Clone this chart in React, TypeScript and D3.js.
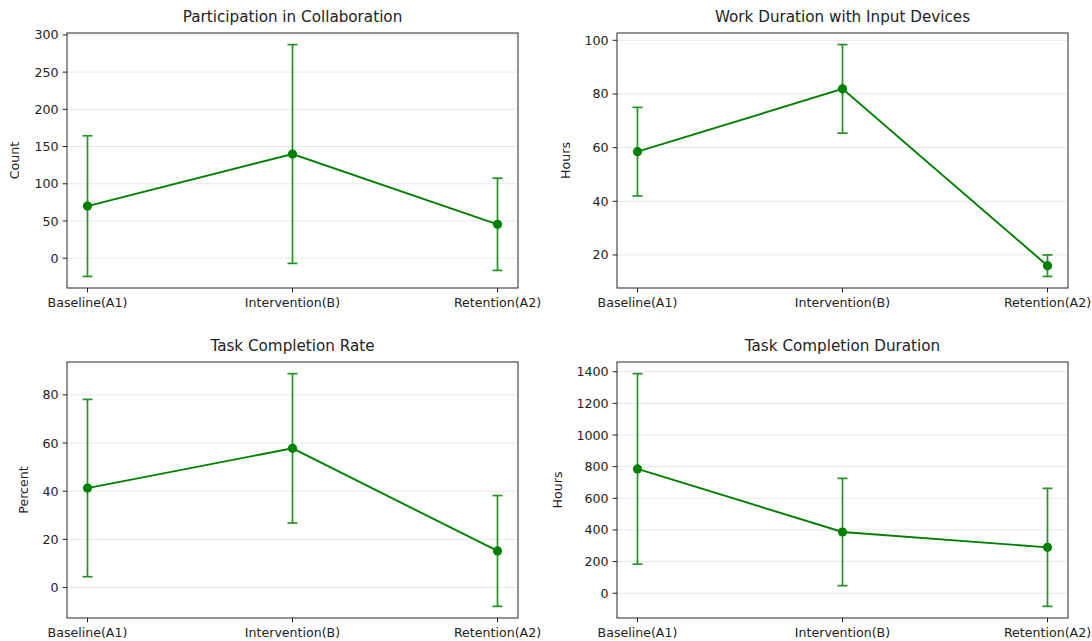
import React from "react";
import * as d3 from "d3";

const categories = ["Baseline(A1)", "Intervention(B)", "Retention(A2)"];

const participationMean = [70, 140, 45.5];
const participationErr = [94.5, 147, 62];
const participationTicks = [0, 50, 100, 150, 200, 250, 300];

const workMean = [58.5, 81.9, 16];
const workErr = [16.5, 16.5, 4];
const workTicks = [20, 40, 60, 80, 100];

const rateMean = [41.3, 57.8, 15.2];
const rateErr = [36.8, 31, 23];
const rateTicks = [0, 20, 40, 60, 80];

const durationMean = [786, 387, 290];
const durationErr = [602, 339, 373];
const durationTicks = [0, 200, 400, 600, 800, 1000, 1200, 1400];

const panels = [
  { title: "Participation in Collaboration", ylabel: "Count", mean: participationMean, err: participationErr, ticks: participationTicks },
  { title: "Work Duration with Input Devices", ylabel: "Hours", mean: workMean, err: workErr, ticks: workTicks },
  { title: "Task Completion Rate", ylabel: "Percent", mean: rateMean, err: rateErr, ticks: rateTicks },
  { title: "Task Completion Duration", ylabel: "Hours", mean: durationMean, err: durationErr, ticks: durationTicks },
];

// frame boxes for the 2x2 grid
const boxes = [
  { x: 67, y: 33, w: 451, h: 255, labelOff: 52 },
  { x: 617, y: 33, w: 451, h: 255, labelOff: 51 },
  { x: 67, y: 362, w: 451, h: 256, labelOff: 43 },
  { x: 617, y: 362, w: 451, h: 256, labelOff: 59 },
];

const GREEN = "#008000";
const FONT = "DejaVu Sans, sans-serif";
const TICK = 12.6;

function Panel({ p, b }: { p: any; b: any }) {
  const lo = d3.min(p.mean.map((m: number, i: number) => m - p.err[i])) as number;
  const hi = d3.max(p.mean.map((m: number, i: number) => m + p.err[i])) as number;
  const pad = (hi - lo) * 0.05;
  const y = d3.scaleLinear().domain([lo - pad, hi + pad]).range([b.y + b.h, b.y]);
  const x = d3.scaleLinear().domain([-0.1, 2.1]).range([b.x, b.x + b.w]);
  const line = d3
    .line<number>()
    .x((_, i) => x(i))
    .y((d) => y(d));

  return (
    <g>
      {p.ticks.map((t: number) => (
        <g key={t}>
          <line x1={b.x} x2={b.x + b.w} y1={y(t)} y2={y(t)} stroke="#e8e8e8" strokeWidth={1} />
          <line x1={b.x - 4.4} x2={b.x} y1={y(t)} y2={y(t)} stroke="#222" strokeWidth={1} />
          <text x={b.x - 8.5} y={y(t)} dy="0.36em" textAnchor="end" fontSize={TICK} fill="#222">
            {t}
          </text>
        </g>
      ))}
      {categories.map((c, i) => (
        <g key={c}>
          <line x1={x(i)} x2={x(i)} y1={b.y + b.h} y2={b.y + b.h + 4.4} stroke="#222" strokeWidth={1} />
          <text x={x(i)} y={b.y + b.h + 19} textAnchor="middle" fontSize={TICK} fill="#222">
            {c}
          </text>
        </g>
      ))}
      {p.mean.map((m: number, i: number) => (
        <g key={i} stroke={GREEN} strokeWidth={1.7} opacity={0.85}>
          <line x1={x(i)} x2={x(i)} y1={y(m - p.err[i])} y2={y(m + p.err[i])} />
          <line x1={x(i) - 5} x2={x(i) + 5} y1={y(m - p.err[i])} y2={y(m - p.err[i])} />
          <line x1={x(i) - 5} x2={x(i) + 5} y1={y(m + p.err[i])} y2={y(m + p.err[i])} />
        </g>
      ))}
      <path d={line(p.mean) || ""} fill="none" stroke={GREEN} strokeWidth={1.9} />
      {p.mean.map((m: number, i: number) => (
        <circle key={i} cx={x(i)} cy={y(m)} r={4.6} fill={GREEN} />
      ))}
      <rect x={b.x} y={b.y} width={b.w} height={b.h} fill="none" stroke="#262626" strokeWidth={1} />
      <text x={b.x + b.w / 2} y={b.y - 11} textAnchor="middle" fontSize={15.2} fill="#222">
        {p.title}
      </text>
      <text
        transform={`translate(${b.x - b.labelOff},${b.y + b.h / 2}) rotate(-90)`}
        dy="0.35em"
        textAnchor="middle"
        fontSize={TICK}
        fill="#222"
      >
        {p.ylabel}
      </text>
    </g>
  );
}

export default function App() {
  return (
    <svg
      width={1092}
      height={641}
      style={{ position: "absolute", left: 0, top: 0, background: "#fff", fontFamily: FONT }}
    >
      <rect width={1092} height={641} fill="#fff" />
      {panels.map((p, i) => (
        <Panel key={p.title} p={p} b={boxes[i]} />
      ))}
    </svg>
  );
}
